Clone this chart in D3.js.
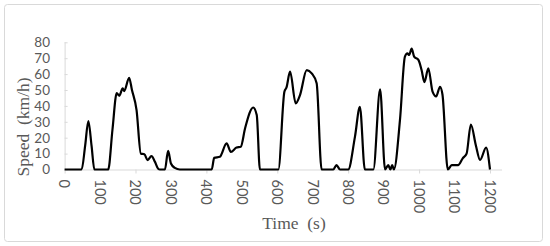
<!DOCTYPE html>
<html>
<head>
<meta charset="utf-8">
<script src="https://cdn.jsdelivr.net/npm/d3@7/dist/d3.min.js"></script>
<style>
  html, body { margin: 0; padding: 0; background: #fff; }
  svg { display: block; }
</style>
</head>
<body>
<svg id="chart" width="550" height="246"></svg>
<script>
// Data (time in s, speed in km/h)
const timeS = [0, 48, 58, 67, 76, 84, 123, 135, 147, 154, 164, 168, 182, 190, 203, 215, 225, 234, 245, 255, 264, 269,
  283, 292, 300, 311, 325, 415, 422, 438, 457, 469, 485, 497, 509, 532, 542, 551, 603, 620, 626, 636, 652, 664,
  683, 697, 711, 725, 758, 767, 777, 800, 819, 833, 847, 871, 890, 904, 913, 919, 924, 929, 946, 960, 967, 972,
  979, 986, 998, 1007, 1015, 1026, 1038, 1048, 1059, 1066, 1081, 1092, 1110, 1123, 1134, 1146, 1160, 1172, 1189, 1200];
const speedKmh = [0, 0, 15, 30.5, 15, 0, 0, 25, 48, 46.4, 51, 49.3, 57.7, 50, 37.4, 10, 9.6, 5.9, 8.4, 4.8, 0.5, 0,
  0, 11.7, 3.8, 1, 0, 0, 7.3, 8, 16.4, 11.1, 13.8, 14.3, 25.8, 39, 34.2, 0, 0, 48.9, 51.6, 61.5, 41.6, 46.8,
  62.5, 60.5, 54.2, 0, 0, 2.7, 0, 0, 20.5, 39.4, 0, 0, 50.4, 0, 2.7, 0, 2.7, 0, 31, 71, 73, 72,
  76, 71, 69, 62.6, 55, 63.6, 49, 46, 52, 47, 0, 2.7, 2.7, 7, 10, 28.3, 15.3, 6, 13.8, 0];
const xTickLabels = [0, 100, 200, 300, 400, 500, 600, 700, 800, 900, 1000, 1100, 1200];
const xTickMarks = [0, 200, 400, 600, 800, 1000, 1200];
const yTicks = [0, 10, 20, 30, 40, 50, 60, 70, 80];
const xTitle = "Time\u00a0\u00a0(s)";
const yTitle = "Speed\u00a0\u00a0(km/h)";

const svg = d3.select("#chart");
const serif = "'Liberation Serif', 'Times New Roman', serif";
const sans = "Lato, 'Open Sans', sans-serif";
const grey = "#595959";

// outer border
svg.append("rect").attr("x", 4.5).attr("y", 4.5).attr("width", 538).attr("height", 237)
  .attr("rx", 3).attr("fill", "#fff").attr("stroke", "#d9d9d9").attr("stroke-width", 1);

const x = d3.scaleLinear().domain([0, 1200]).range([64.6, 490]);
const y = d3.scaleLinear().domain([0, 80]).range([169.5, 42.3]);
const xAxisEnd = 1234;

// y axis
const yAxis = svg.append("g").attr("transform", `translate(${x(0)},0)`)
  .call(d3.axisRight(y).tickValues(yTicks).tickSize(3).tickFormat(""));
yAxis.select(".domain").attr("stroke", "#d9d9d9").attr("d", `M0.5,${y(80)}V${y(0)}`);
yAxis.selectAll(".tick line").attr("stroke", "#d9d9d9");
svg.append("g").selectAll("text").data(yTicks).join("text")
  .attr("x", 50).attr("y", d => y(d)).attr("dy", "0.36em")
  .attr("text-anchor", "end").attr("font-family", sans).attr("font-size", 13.5)
  .attr("fill", grey).text(d => d);

// x axis
const xAxis = svg.append("g").attr("transform", `translate(0,${y(0)})`)
  .call(d3.axisBottom(x).tickValues(xTickMarks).tickSize(4).tickFormat(""));
xAxis.select(".domain").attr("stroke", "#d9d9d9").attr("d", `M${x(0)},0.5H${x(xAxisEnd)}`);
xAxis.selectAll(".tick line").attr("stroke", "#d9d9d9");
svg.append("g").selectAll("text").data(xTickLabels).join("text")
  .attr("transform", d => `translate(${x(d)},${y(0) + 10}) rotate(90)`)
  .attr("dy", "0.36em").attr("text-anchor", "start")
  .attr("font-family", sans).attr("font-size", 14.5).attr("fill", grey).text(d => d);

// titles
svg.append("text").attr("x", 294).attr("y", 228.5).attr("text-anchor", "middle")
  .attr("font-family", serif).attr("font-size", 17.5).attr("fill", grey).text(xTitle);
svg.append("text").attr("transform", "translate(28.5,127) rotate(-90)").attr("text-anchor", "middle")
  .attr("font-family", serif).attr("font-size", 17.5).attr("fill", grey).text(yTitle);

// line
const pts = timeS.map((t, i) => [t, speedKmh[i]]);
const line = d3.line().x(d => x(d[0])).y(d => y(d[1])).curve(d3.curveMonotoneX);
svg.append("path").datum(pts).attr("d", line).attr("fill", "none")
  .attr("stroke", "#000").attr("stroke-width", 2.2).attr("stroke-linejoin", "round");
</script>
</body>
</html>
